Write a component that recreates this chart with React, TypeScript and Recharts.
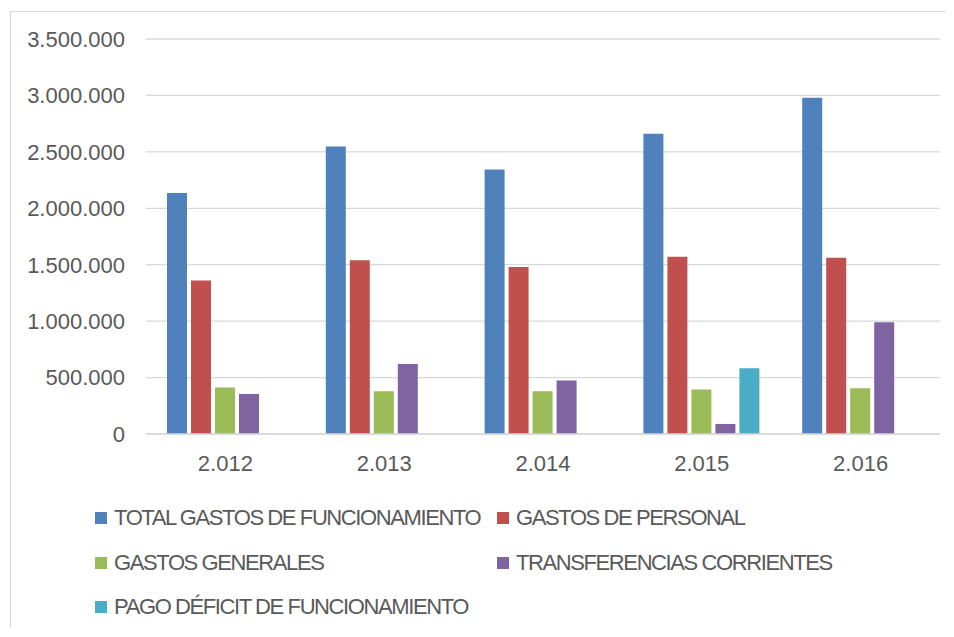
import { BarChart, Bar, XAxis, YAxis, CartesianGrid } from "recharts";

const years = ["2.012", "2.013", "2.014", "2.015", "2.016"];

const totalFuncionamiento = [2136000, 2547000, 2343000, 2660000, 2979000];
const gastosPersonal = [1361000, 1539000, 1479000, 1571000, 1562000];
const gastosGenerales = [412000, 379000, 379000, 394000, 406000];
const transferencias = [355000, 621000, 474000, 89000, 991000];
const pagoDeficit = [null, null, null, 583000, null];

const yTicks = [0, 500000, 1000000, 1500000, 2000000, 2500000, 3000000, 3500000];

const series = [
  { key: "total", name: "TOTAL GASTOS DE FUNCIONAMIENTO", color: "#4F81BD", values: totalFuncionamiento },
  { key: "personal", name: "GASTOS DE PERSONAL", color: "#C0504D", values: gastosPersonal },
  { key: "generales", name: "GASTOS GENERALES", color: "#9BBB59", values: gastosGenerales },
  { key: "transferencias", name: "TRANSFERENCIAS CORRIENTES", color: "#8064A2", values: transferencias },
  { key: "deficit", name: "PAGO DÉFICIT DE FUNCIONAMIENTO", color: "#4BACC6", values: pagoDeficit },
];

const data = years.map((year, i) => {
  const row: Record<string, string | number | null> = { year };
  series.forEach((s) => {
    row[s.key] = s.values[i];
  });
  return row;
});

// 1234567 -> "1.234.567"
const formatMiles = (v: number) =>
  String(Math.round(v)).replace(/\B(?=(\d{3})+(?!\d))/g, ".");

const textColor = "#595959";
const gridColor = "#D9D9D9";

export default function App() {
  return (
    <div style={{ position: "relative", width: 940, height: 620, fontFamily: "'Liberation Sans', Arial, sans-serif" }}>
      <div
        style={{
          position: "absolute",
          left: 2,
          top: 3,
          width: 944,
          height: 616,
          borderTop: `1px solid ${gridColor}`,
          borderLeft: `1px solid ${gridColor}`,
        }}
      />
      <div style={{ position: "absolute", left: 0, top: 0 }}>
        <BarChart
          width={940}
          height={480}
          data={data}
          margin={{ top: 31, right: 8, left: 0, bottom: 0 }}
          barSize={20}
          barGap={4}
        >
          <CartesianGrid vertical={false} stroke={gridColor} strokeWidth={1.3} />
          <XAxis
            dataKey="year"
            axisLine={{ stroke: gridColor, strokeWidth: 1.3 }}
            tickLine={false}
            tickSize={0}
            tickMargin={21}
            height={54}
            tick={{ fill: textColor, fontSize: 22, fontFamily: "'Liberation Sans', Arial, sans-serif" }}
          />
          <YAxis
            domain={[0, 3500000]}
            ticks={yTicks}
            width={138}
            axisLine={false}
            tickLine={false}
            tickSize={0}
            tickMargin={21}
            tickFormatter={formatMiles}
            tick={{ fill: textColor, fontSize: 22, fontFamily: "'Liberation Sans', Arial, sans-serif" }}
          />
          {series.map((s) => (
            <Bar key={s.key} dataKey={s.key} name={s.name} fill={s.color} isAnimationActive={false} />
          ))}
        </BarChart>
      </div>
      {series.map((s, i) => {
        const col = i % 2;
        const row = Math.floor(i / 2);
        return (
          <div
            key={s.key}
            style={{
              position: "absolute",
              left: col === 0 ? 87 : 489,
              top: 510 + row * 44.5 - 13,
              height: 26,
              display: "flex",
              alignItems: "center",
              whiteSpace: "nowrap",
            }}
          >
            <span style={{ display: "inline-block", width: 12, height: 12, background: s.color, marginRight: 7 }} />
            <span style={{ fontSize: 22, color: textColor, letterSpacing: -1.4 }}>{s.name}</span>
          </div>
        );
      })}
    </div>
  );
}
